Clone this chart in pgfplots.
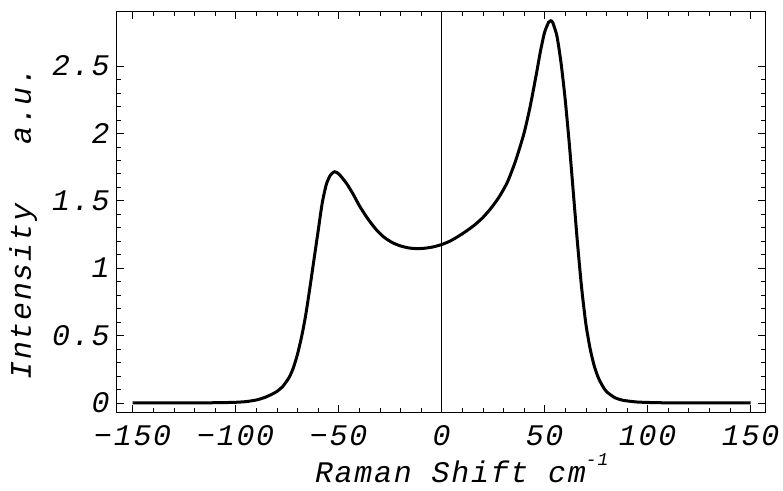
\documentclass[border=0pt]{standalone}
\usepackage{pgfplots}
\pgfplotsset{compat=1.18}
\usepackage{fontspec}
\setmainfont{Liberation Mono}[LetterSpace=6]
\pgfplotstableread{
x y
-150 0
-130 0
-115 0.001
-105 0.003
-100 0.005
-95 0.01
-90 0.022
-86 0.04
-83 0.06
-80 0.085
-77 0.125
-74 0.19
-72 0.26
-70 0.36
-68 0.49
-66 0.65
-64 0.85
-62 1.06
-60 1.27
-58 1.48
-56 1.62
-54 1.69
-52 1.715
-50 1.70
-48 1.665
-46 1.625
-43 1.55
-40 1.465
-36 1.37
-32 1.29
-28 1.23
-24 1.19
-20 1.165
-16 1.15
-12 1.145
-8 1.148
-4 1.158
0 1.175
4 1.20
8 1.235
12 1.275
16 1.32
20 1.375
24 1.445
28 1.53
32 1.64
36 1.80
40 2.00
43 2.20
46 2.44
48 2.61
50 2.75
52 2.825
53 2.835
54 2.82
56 2.72
58 2.52
60 2.25
62 1.92
64 1.55
66 1.18
68 0.85
70 0.59
72 0.41
74 0.28
76 0.19
78 0.13
80 0.085
84 0.04
88 0.02
95 0.007
105 0.002
120 0
150 0
}\spectrum
\begin{document}
\begin{tikzpicture}
\begin{axis}[
  name=ax,
  scale only axis, width=648bp, height=400bp,
  xmin=-157.6, xmax=157, ymin=-0.067, ymax=2.9,
  xtick={-150,-100,-50,0,50,100,150},
  xticklabels={−150,−100,−50,0,50,100,150},
  ytick={0,0.5,1,1.5,2,2.5},
  yticklabels={0,0.5,1,1.5,2,2.5},
  minor x tick num=4, minor y tick num=4,
  tick align=inside,
  major tick length=7bp, minor tick length=4bp,
  tick style={black, line width=0.6bp},
  axis line style={line width=1bp},
  ticklabel style={font=\fontsize{30}{30}\selectfont\itshape},
  xticklabel style={yshift=-10bp},
  yticklabel style={xshift=-4bp},
  label style={font=\fontsize{30}{30}\selectfont\itshape},
  xlabel={Raman Shift cm\raisebox{0.55em}{\fontsize{18}{18}\selectfont -1}},
  ylabel={Intensity~~~a.u.},
  xlabel style={at={(axis description cs:0.532,-0.175)}, anchor=base},
  ylabel style={at={(axis description cs:-0.145,0.471)}, anchor=center},
]
\addplot[black, line width=0.8bp] coordinates {(0,-0.067) (0,2.9)};
\addplot[black, line width=3bp, smooth, tension=0.4] table[x=x,y=y] {\spectrum};
\end{axis}
\pgfresetboundingbox
\path[use as bounding box] ([xshift=-117bp,yshift=-79bp]ax.south west) rectangle ([xshift=18bp,yshift=12bp]ax.north east);
\end{tikzpicture}
\end{document}
